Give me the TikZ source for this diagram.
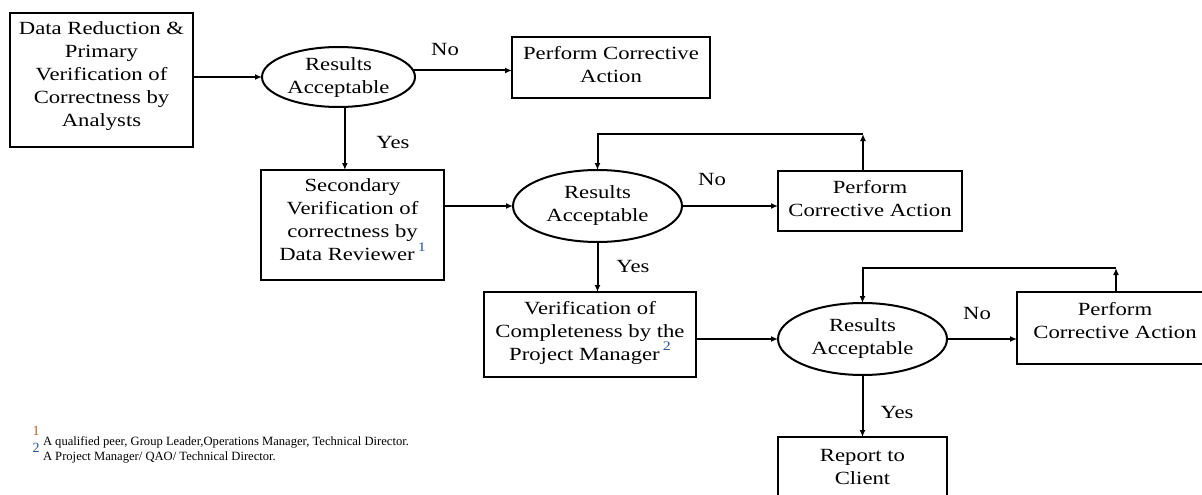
\documentclass[tikz,border=0pt]{standalone}
\usepackage{fontspec}
\setmainfont{Liberation Serif}[FakeStretch=1.22]
\newfontfamily\fnfont{Liberation Serif}
\usetikzlibrary{shapes.geometric,arrows.meta,calc}
\definecolor{fnone}{RGB}{170,100,30}
\definecolor{fntwo}{RGB}{40,80,160}
\begin{document}
\begin{tikzpicture}[x=1pt,y=1pt,
  every node/.style={inner sep=0pt, outer sep=0pt},
  mainfont/.style={font=\fontsize{18.6}{23}\selectfont},
  boxnode/.style={draw, line width=2pt, rectangle},
  decision/.style={draw, line width=2pt, ellipse},
  txt/.style={align=center, mainfont},
  arr/.style={line width=2pt, -{Latex[length=7pt,width=6pt]}},
  lbl/.style={mainfont}]
\useasboundingbox (0,0) rectangle (1202,-495);

% shapes
\node[boxnode, minimum width=183, minimum height=134,
  label={[txt, yshift=4]center:Data Reduction \&\\Primary\\Verification of\\Correctness by\\Analysts}] (b1) at (101.5,-80) {};
\node[decision, minimum width=153, minimum height=60,
  label={[txt, yshift=-1]center:Results\\Acceptable}] (e1) at (338.5,-77) {};
\node[boxnode, minimum width=198, minimum height=61,
  label={[txt, yshift=3]center:Perform Corrective\\Action}] (p1) at (611,-67.5) {};

\node[boxnode, minimum width=183, minimum height=110,
  label={[txt, yshift=5]center:Secondary\\Verification of\\correctness by\\Data Reviewer\,\raisebox{0.5em}{\fontsize{13}{13}\selectfont\textcolor{fntwo}{1}}}] (b2) at (352.5,-225) {};
\node[decision, minimum width=169, minimum height=72,
  label={[txt]center:Results\\Acceptable}] (e2) at (597.5,-206) {};
\node[boxnode, minimum width=184, minimum height=60,
  label={[txt, yshift=2]center:Perform\\Corrective Action}] (p2) at (870,-201) {};

\node[boxnode, minimum width=212, minimum height=85,
  label={[txt, yshift=2]center:Verification of\\Completeness by the\\Project Manager\,\raisebox{0.5em}{\fontsize{13}{13}\selectfont\textcolor{fntwo}{2}}}] (b4) at (590,-334.5) {};
\node[decision, minimum width=169, minimum height=72,
  label={[txt]center:Results\\Acceptable}] (e3) at (862.5,-339) {};
\node[boxnode, minimum width=196, minimum height=72,
  label={[txt, yshift=7]center:Perform\\Corrective Action}] (p3) at (1115,-328) {};

\node[boxnode, minimum width=169, minimum height=62,
  label={[txt, yshift=1]center:Report to\\Client}] (r) at (862.5,-468) {};

% loop corners
\coordinate (c1) at (863,-134);
\coordinate (c2) at (1116,-268);

% connectors
\draw[arr] (b1.east |- e1) -- (e1.west);
\draw[arr] (e1.5) -- (e1.5 -| p1.west);
\draw[arr] (e1.-78) -- (e1.-78 |- b2.north);
\draw[arr] (b2.east |- e2) -- (e2.west);
\draw[arr] (e2.east) -- (e2.east -| p2.west);
\draw[arr] (c1 |- p2.north) -- (c1);
\draw[arr] (c1) -- (c1 -| e2.north) -- (e2.north);
\draw[arr] (e2.south) -- (e2.south |- b4.north);
\draw[arr] (b4.east |- e3) -- (e3.west);
\draw[arr] (e3.east) -- (e3.east -| p3.west);
\draw[arr] (c2 |- p3.north) -- (c2);
\draw[arr] (c2) -- (c2 -| e3.north) -- (e3.north);
\draw[arr] (e3.south) -- (e3.south |- r.north);

% edge labels
\node[lbl] (no1) at (445,-50) {No};
\node[lbl] (yes1) at (393,-143) {Yes};
\node[lbl] (no2) at (712,-180) {No};
\node[lbl] (yes2) at (633,-266) {Yes};
\node[lbl] (no3) at (977,-313) {No};
\node[lbl] (yes3) at (897,-412) {Yes};

% footnotes
\node[font=\fnfont\fontsize{14}{14}\selectfont, text=fnone] (f1m) at (36,-431) {1};
\node[font=\fnfont\fontsize{12.6}{14}\selectfont, anchor=base west] (f1) at (43,-445) {A qualified peer, Group Leader,Operations Manager, Technical Director.};
\node[font=\fnfont\fontsize{14}{14}\selectfont, text=fntwo] (f2m) at (36,-448) {2};
\node[font=\fnfont\fontsize{12.6}{14}\selectfont, anchor=base west] (f2) at (43,-460) {A Project Manager/ QAO/ Technical Director.};
\end{tikzpicture}
\end{document}
